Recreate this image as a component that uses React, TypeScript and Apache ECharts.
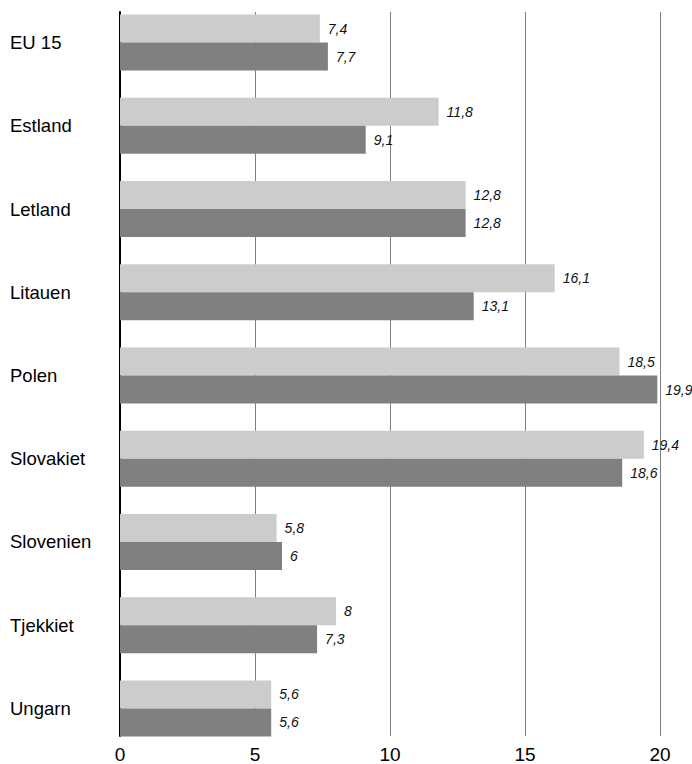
import React, { useEffect, useRef } from "react";
import * as echarts from "echarts";

const categories = ["EU 15", "Estland", "Letland", "Litauen", "Polen", "Slovakiet", "Slovenien", "Tjekkiet", "Ungarn"];
const seriesLight = [7.4, 11.8, 12.8, 16.1, 18.5, 19.4, 5.8, 8, 5.6];
const seriesDark = [7.7, 9.1, 12.8, 13.1, 19.9, 18.6, 6, 7.3, 5.6];
const xTicks = [0, 5, 10, 15, 20];

const FONT = "'Liberation Sans', Arial, sans-serif";

export default function App() {
  const ref = useRef<HTMLDivElement>(null);
  useEffect(() => {
    document.body.style.margin = "0";
    const chart = echarts.init(ref.current!, null, { renderer: "svg" });
    const labelCfg = {
      show: true,
      position: "right" as const,
      distance: 8,
      fontStyle: "italic" as const,
      fontSize: 14,
      fontFamily: FONT,
      color: "#111",
      formatter: (p: any) => String(p.value).replace(".", ","),
    };
    chart.setOption({
      animation: false,
      backgroundColor: "#fff",
      grid: [
        { left: 120, width: 540, top: 12, height: 724 },
        { left: 120, width: 540, top: 1, height: 749 },
      ],
      xAxis: [
        {
          gridIndex: 0,
          type: "value",
          min: xTicks[0],
          max: xTicks[xTicks.length - 1],
          interval: 5,
          axisLine: { show: false },
          axisTick: { show: false },
          splitLine: { show: true, lineStyle: { color: "#7f7f7f", width: 1 } },
          axisLabel: { fontSize: 19, color: "#000", fontFamily: FONT, margin: 9 },
        },
        {
          gridIndex: 1,
          type: "value",
          min: 0,
          max: 20,
          show: false,
          splitLine: { show: false },
        },
      ],
      yAxis: [
        {
          gridIndex: 0,
          type: "category",
          data: categories,
          inverse: true,
          axisLine: { show: true, lineStyle: { color: "#000", width: 2 } },
          axisTick: { show: false },
          axisLabel: { show: false },
        },
        {
          gridIndex: 1,
          type: "category",
          data: categories,
          inverse: true,
          axisLine: { show: false },
          axisTick: { show: false },
          axisLabel: {
            fontSize: 18.5,
            color: "#000",
            fontFamily: FONT,
            align: "left",
            margin: 110,
          },
        },
      ],
      series: [
        {
          type: "bar",
          xAxisIndex: 1,
          yAxisIndex: 1,
          data: seriesLight,
          barWidth: 28,
          barGap: "0%",
          itemStyle: { color: "#cccccc" },
          label: labelCfg,
        },
        {
          type: "bar",
          xAxisIndex: 1,
          yAxisIndex: 1,
          data: seriesDark,
          barWidth: 28,
          barGap: "0%",
          itemStyle: { color: "#808080" },
          label: labelCfg,
        },
      ],
    });
    return () => chart.dispose();
  }, []);
  return <div ref={ref} style={{ position: "absolute", left: 0, top: 0, width: 692, height: 764 }} />;
}
